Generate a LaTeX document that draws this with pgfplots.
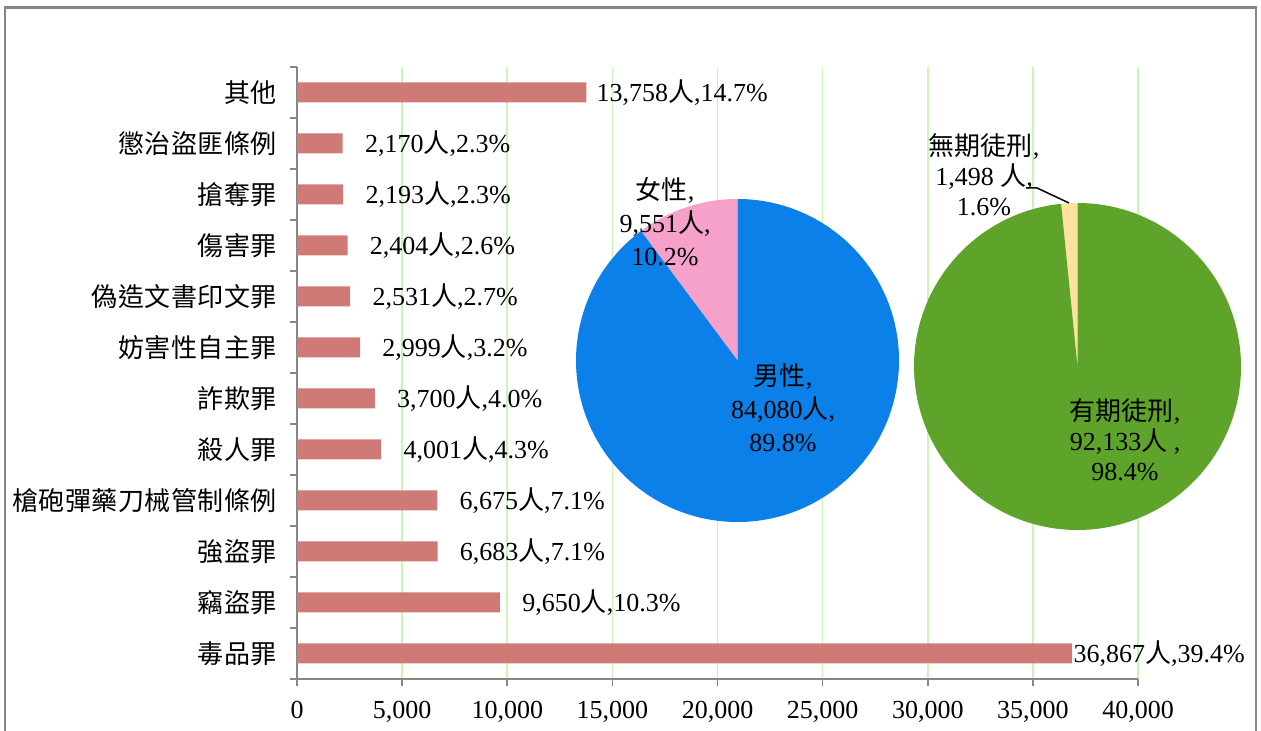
\documentclass[border=0pt]{standalone}
\usepackage{fontspec}
\setmainfont{Liberation Serif}
\newfontfamily\cjk{Noto Sans CJK TC}
\newfontfamily\cjkspaced{Noto Sans CJK TC}[LetterSpace=2]
\usepackage{pgfplots}
\usepackage{pgfplotstable}
\pgfplotsset{compat=1.18}
\protected\def\ren{{\cjk 人}}
\definecolor{barred}{HTML}{D07A77}
\definecolor{pieblue}{HTML}{0A80E8}
\definecolor{piepink}{HTML}{F5A1C9}
\definecolor{piegreen}{HTML}{5FA42A}
\definecolor{pieyellow}{HTML}{FFE29D}
\definecolor{gridgreen}{HTML}{CCF3B8}
\definecolor{axisgray}{HTML}{868686}

\pgfplotstableread[col sep=semicolon]{
y;v;off;lab
1;36867;0.5;36,867\ren,39.4\%
2;9650;11;9,650\ren,10.3\%
3;6683;11;6,683\ren,7.1\%
4;6675;11;6,675\ren,7.1\%
5;4001;11;4,001\ren,4.3\%
6;3700;11;3,700\ren,4.0\%
7;2999;11;2,999\ren,3.2\%
8;2531;11;2,531\ren,2.7\%
9;2404;11;2,404\ren,2.6\%
10;2193;11;2,193\ren,2.3\%
11;2170;11;2,170\ren,2.3\%
12;13758;5;13,758\ren,14.7\%
}\crimedata

% pie data (persons, in thousands for pgfmath range)
\def\male{84.080}\def\female{9.551}
\def\fixed{92.133}\def\life{1.498}
\pgfmathsetmacro\fang{360*\female/(\male+\female)}
\pgfmathsetmacro\lang{360*\life/(\fixed+\life)}

\begin{document}
\begin{tikzpicture}
\useasboundingbox (0,0) rectangle (630.5pt,365.5pt);
\draw[axisgray, line width=1.2pt] (2.5pt,-5pt) |- (628pt,361.8pt) -- (628pt,-5pt);

\begin{axis}[
  at={(148.5pt,26pt)}, anchor=south west,
  scale only axis, width=420.5pt, height=306pt,
  xbar, bar width=10pt,
  xmin=0, xmax=40000, ymin=0.5, ymax=12.5,
  xtick={0,5000,...,40000},
  scaled x ticks=false,
  /pgf/number format/1000 sep={,},
  /pgf/number format/assume math mode=true,
  xticklabel style={font=\fontsize{13pt}{15pt}\selectfont, yshift=-4pt},
  ytick={0.5,1.5,...,12.5},
  y tick label as interval,
  yticklabels={毒品罪,竊盜罪,強盜罪,槍砲彈藥刀械管制條例,殺人罪,詐欺罪,妨害性自主罪,偽造文書印文罪,傷害罪,搶奪罪,懲治盜匪條例,其他},
  yticklabel style={font=\fontsize{13pt}{15pt}\cjkspaced, xshift=-3pt},
  axis lines=left,
  axis line style={-, axisgray, line width=0.8pt},
  tick align=outside,
  major tick length=3.5pt,
  tick style={axisgray, line width=0.8pt},
  xmajorgrids,
  grid style={gridgreen, line width=0.8pt},
  clip=false,
]
\addplot[draw=none, fill=barred,
  point meta=explicit symbolic,
  visualization depends on={\thisrow{off}\as\off},
  nodes near coords,
  every node near coord/.append style={anchor=west, inner sep=0pt, xshift=\off pt, font=\fontsize{13pt}{15pt}\selectfont, text=black},
] table[x=v, y=y, meta=lab] {\crimedata};
\end{axis}

\begin{axis}[
  at={(0pt,0pt)}, anchor=south west,
  scale only axis, width=630.5pt, height=365.5pt,
  xmin=0, xmax=1261, ymin=0, ymax=731,
  hide axis, clip=false,
]
% pie 1: gender
\fill[piepink] (axis cs:737.5,370.5) -- ++(90:80.75pt) arc[start angle=90, end angle=90+\fang, radius=80.75pt] -- cycle;
\fill[pieblue] (axis cs:737.5,370.5) -- ++(90+\fang:80.75pt) arc[start angle=90+\fang, end angle=450, radius=80.75pt] -- cycle;
% pie 2: sentence
\fill[pieyellow] (axis cs:1077.5,364.5) -- ++(90:81.75pt) arc[start angle=90, end angle=90+\lang, radius=81.75pt] -- cycle;
\fill[piegreen] (axis cs:1077.5,364.5) -- ++(90+\lang:81.75pt) arc[start angle=90+\lang, end angle=450, radius=81.75pt] -- cycle;
\draw[black, line width=0.75pt] (axis cs:1026,543) -- (axis cs:1037,543) -- (axis cs:1069,528);

\node[align=center, font=\fontsize{13pt}{16.5pt}\selectfont, inner sep=0pt] at (axis cs:665,509) {{\cjk 女性},\\9,551\ren,\\10.2\%};
\node[align=center, font=\fontsize{13pt}{16.5pt}\selectfont, inner sep=0pt] at (axis cs:783,323) {{\cjk 男性},\\84,080\ren,\\89.8\%};
\node[align=center, font=\fontsize{13pt}{15pt}\selectfont, inner sep=0pt] at (axis cs:984,556) {{\cjk 無期徒刑},\\1,498 \ren,\\1.6\%};
\node[align=center, font=\fontsize{13pt}{15pt}\selectfont, inner sep=0pt] at (axis cs:1125,291) {{\cjk 有期徒刑},\\92,133\ren\ ,\\98.4\%};
\end{axis}
\end{tikzpicture}
\end{document}
